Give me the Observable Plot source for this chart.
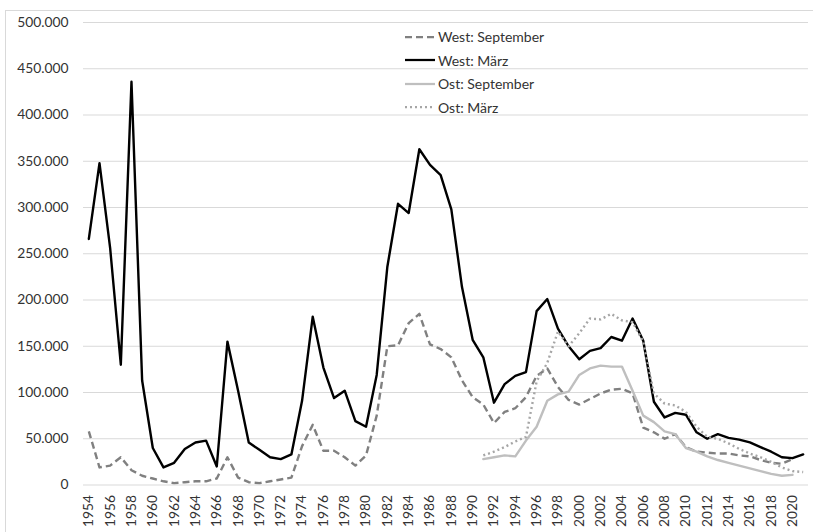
<!DOCTYPE html>
<html><head><meta charset="utf-8">
<script src="https://cdn.jsdelivr.net/npm/d3@7"></script>
<script src="https://cdn.jsdelivr.net/npm/@observablehq/plot@0.6"></script>
<style>
body{margin:0;background:#fff;}
#wrap{position:relative;width:813px;height:532px;overflow:hidden;font-family:Lato,sans-serif;}
#border{position:absolute;left:5px;top:10px;width:900px;height:600px;border:1px solid #d9d9d9;box-sizing:border-box;}
#chart{position:absolute;left:0;top:0;}
#legend{position:absolute;left:405px;top:25px;font-size:14px;color:#333;}
#legend .row{display:flex;align-items:center;height:23.5px;}
#legend svg{display:block;margin-right:2px;}
</style>
</head><body>
<div id="wrap"><div id="border"></div><div id="chart"></div><div id="legend"></div></div>
<script>
const westMaerzStart = 1954;
const westMaerz = [266000,348000,256000,130000,436000,113000,40000,19000,24000,39000,
  46000,48000,20000,155000,102000,46000,38000,30000,28000,33000,
  91000,182000,127000,94000,102000,69000,63000,119000,236000,304000,
  294000,363000,346000,335000,298000,214000,157000,138000,89000,109000,
  118000,122000,188000,201000,169000,150000,136000,145000,148000,160000,
  156000,180000,156000,90000,73000,78000,76000,57000,50000,55000,
  51000,49000,46000,41000,36000,30000,29000,33000];
const westSeptStart = 1954;
const westSept = [58000,19000,21000,30000,16000,10000,7000,4000,2000,3000,
  4000,4000,7000,30000,8000,3000,2000,4000,6000,8000,
  42000,65000,37000,37000,30000,21000,32000,75000,150000,151000,
  175000,185000,152000,147000,138000,113000,95000,87000,67000,79000,
  83000,95000,118000,126000,106000,92000,87000,93000,99000,103000,
  104000,99000,62000,57000,50000,55000,41000,36000,35000,34000,
  34000,32000,31000,27000,24000,23000,28000];
const ostSeptStart = 1991;
const ostSept = [28000,30000,32000,31000,48000,63000,91000,98000,101000,119000,
  126000,129000,128000,128000,102000,75000,68000,58000,55000,40000,
  36000,31000,27000,24000,21000,18000,15000,12000,10000,11000];
const ostMaerzStart = 1991;
const ostMaerz = [32000,36000,41000,47000,52000,112000,132000,166000,150000,164000,
  180000,179000,185000,178000,176000,155000,99000,88000,86000,79000,
  63000,52000,50000,45000,39000,34000,30000,25000,19000,15000,14000];
const seriesNames = ["West: September","West: März","Ost: September","Ost: März"];
const yTicks = d3.range(0, 500001, 50000);
const xTicks = d3.range(1954, 2021, 2);

const styles = {
  "West: September": {stroke:"#808080", dash:"7,4", cap:"butt"},
  "West: März": {stroke:"#000000", dash:null, cap:"round"},
  "Ost: September": {stroke:"#bfbfbf", dash:null, cap:"round"},
  "Ost: März": {stroke:"#a6a6a6", dash:"2,3", cap:"butt"}
};
function toRows(name, start, values){ return values.map((v,i)=>({series:name, year:start+i, value:v})); }
const data = {
  "West: September": toRows("West: September", westSeptStart, westSept),
  "West: März": toRows("West: März", westMaerzStart, westMaerz),
  "Ost: September": toRows("Ost: September", ostSeptStart, ostSept),
  "Ost: März": toRows("Ost: März", ostMaerzStart, ostMaerz)
};
const de = d3.formatLocale({decimal:",", thousands:".", grouping:[3], currency:["","€"]});
const fmt = de.format(",");

const lineMarks = seriesNames.map(n => Plot.line(data[n], {
  x:"year", y:"value", stroke: styles[n].stroke, strokeWidth:2.4,
  strokeDasharray: styles[n].dash ?? undefined, strokeLinecap: styles[n].cap, strokeLinejoin:"round"
}));

const chart = Plot.plot({
  width:813, height:532,
  marginLeft:83, marginRight:5, marginTop:22, marginBottom:47.5,
  x:{domain:[1953.5, 2021.5]},
  y:{domain:[0, 500000]},
  style:{fontFamily:"Lato, sans-serif", fontSize:"13.8px", color:"#333", background:"transparent"},
  marks:[
    Plot.ruleY(yTicks, {stroke:"#d9d9d9", strokeWidth:1}),
    Plot.axisY({ticks:yTicks, tickSize:0, tickPadding:15, tickFormat:fmt, label:null}),
    Plot.axisX({ticks:xTicks, tickSize:0, tickPadding:10, tickRotate:-90, tickFormat:d=>String(d), label:null}),
    ...lineMarks
  ]
});
document.getElementById("chart").appendChild(chart);

const legend = document.getElementById("legend");
for (const n of seriesNames) {
  const row = document.createElement("div");
  row.className = "row";
  const s = styles[n];
  row.innerHTML = `<svg width="31" height="10"><line x1="0" y1="5" x2="30" y2="5" stroke="${s.stroke}" stroke-width="2.25" ${s.dash ? `stroke-dasharray="${s.dash}"` : ""}/></svg><span>${n}</span>`;
  legend.appendChild(row);
}
</script>
</body></html>
